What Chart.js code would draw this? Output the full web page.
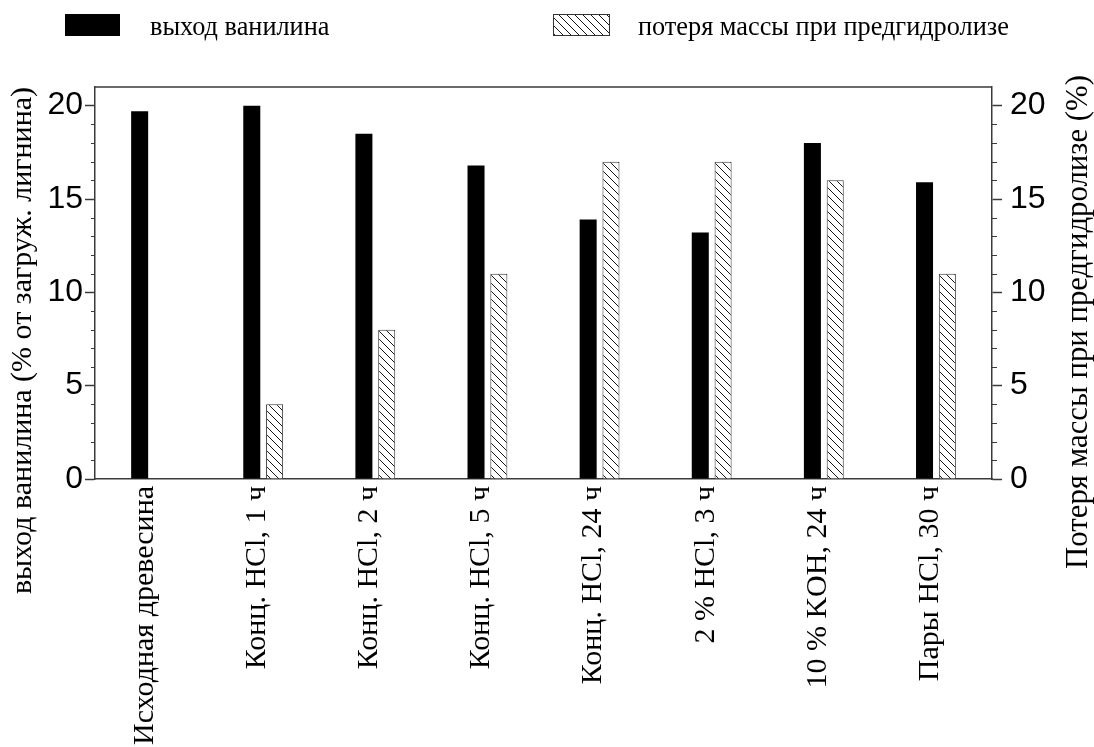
<!DOCTYPE html>
<html lang="ru">
<head>
<meta charset="utf-8">
<title>Выход ванилина и потеря массы при предгидролизе</title>
<script src="https://cdn.jsdelivr.net/npm/chart.js@4.4.1/dist/chart.umd.min.js"></script>
<style>
  html, body { margin: 0; padding: 0; background: #ffffff; }
  #wrap { width: 1094px; height: 747px; position: relative; }
</style>
</head>
<body>
<div id="wrap"><canvas id="chart" width="1094" height="747"></canvas></div>
<script>
// Pretreatment conditions (x categories)
const categories = [
  'Исходная древесина',
  'Конц. HCl, 1 ч',
  'Конц. HCl, 2 ч',
  'Конц. HCl, 5 ч',
  'Конц. HCl, 24 ч',
  '2 % HCl, 3 ч',
  '10 % KOH, 24 ч',
  'Пары HCl, 30 ч'
];
// Vanillin yield, % of loaded lignin (left axis)
const vanillinYield = [19.7, 20.0, 18.5, 16.8, 13.9, 13.2, 18.0, 15.9];
// Mass loss during prehydrolysis, % (right axis); none for untreated wood
const massLoss = [null, 4, 8, 11, 17, 17, 16, 11];
// Labelled ticks on both value axes
const majorTicks = [0, 5, 10, 15, 20];
// Unlabelled minor ticks
const minorTicks = [1, 2, 3, 4, 6, 7, 8, 9, 11, 12, 13, 14, 16, 17, 18, 19];

const seriesNames = ['выход ванилина', 'потеря массы при предгидролизе'];
const leftTitle = 'выход ванилина (% от загруж. лигнина)';
const rightTitle = 'Потеря массы при предгидролизе (%)';

const AXIS_COLOR = '#3a3a3a';
const SERIF = '"Liberation Serif", "Times New Roman", serif';
const SANS = '"Liberation Sans", Arial, sans-serif';

// Diagonal "\" hatch used for the mass-loss bars
function makeHatch() {
  const s = 8;
  const c = document.createElement('canvas');
  c.width = s; c.height = s;
  const g = c.getContext('2d');
  g.fillStyle = '#ffffff';
  g.fillRect(0, 0, s, s);
  g.strokeStyle = '#1a1a1a';
  g.lineWidth = 1;
  g.beginPath();
  g.moveTo(-1, -1); g.lineTo(s + 1, s + 1);
  g.moveTo(-1, s - 1); g.lineTo(1, s + 1);
  g.moveTo(s - 1, -1); g.lineTo(s + 1, 1);
  g.stroke();
  return g.createPattern(c, 'repeat');
}
const hatch = makeHatch();

// Frame top edge, minor ticks, right-hand title and the legend row
const decorations = {
  id: 'decorations',
  afterDraw(chart) {
    const ctx = chart.ctx;
    const area = chart.chartArea;
    const yL = chart.scales.y;
    const yR = chart.scales.y2;
    ctx.save();
    ctx.strokeStyle = AXIS_COLOR;
    ctx.lineWidth = 1.5;
    ctx.beginPath();
    ctx.moveTo(area.left, area.top);
    ctx.lineTo(area.right, area.top);
    ctx.stroke();

    ctx.lineWidth = 1;
    ctx.beginPath();
    minorTicks.forEach(v => {
      const pl = Math.round(yL.getPixelForValue(v)) + 0.5;
      ctx.moveTo(area.left, pl); ctx.lineTo(area.left - 4, pl);
      const pr = Math.round(yR.getPixelForValue(v)) + 0.5;
      ctx.moveTo(area.right, pr); ctx.lineTo(area.right + 5, pr);
    });
    ctx.stroke();

    // right axis title, reading bottom to top
    ctx.fillStyle = '#000';
    ctx.font = '30.8px ' + SERIF;
    ctx.textAlign = 'right';
    ctx.textBaseline = 'alphabetic';
    ctx.translate(1087, 75);
    ctx.rotate(-Math.PI / 2);
    ctx.fillText(rightTitle, 0, 0);
    ctx.restore();

    // legend
    const ds = chart.data.datasets;
    ctx.save();
    ctx.font = '26.3px ' + SERIF;
    ctx.fillStyle = ds[0].backgroundColor;
    ctx.fillRect(65, 14, 55, 22);
    ctx.fillStyle = ds[1].backgroundColor;
    ctx.fillRect(553, 14, 57, 22);
    ctx.strokeStyle = ds[1].borderColor;
    ctx.lineWidth = 1;
    ctx.strokeRect(553.5, 14.5, 56, 21);
    ctx.fillStyle = '#000';
    ctx.textBaseline = 'alphabetic';
    ctx.textAlign = 'left';
    ctx.fillText(ds[0].label, 150, 35);
    ctx.fillText(ds[1].label, 638, 35);
    ctx.restore();
  }
};

const valueAxis = (position) => ({
  type: 'linear',
  position,
  min: 0,
  max: 21,
  afterBuildTicks: (scale) => { scale.ticks = majorTicks.map(v => ({ value: v })); },
  grid: {
    drawOnChartArea: false,
    drawTicks: true,
    tickLength: 10,
    tickColor: AXIS_COLOR,
    tickWidth: 1.5
  },
  border: { display: true, color: AXIS_COLOR, width: 1.5 },
  ticks: {
    color: '#000',
    font: { family: SANS, size: 32 },
    padding: position === 'left' ? 2 : 8
  }
});

const yLeft = valueAxis('left');
yLeft.title = {
  display: true,
  text: leftTitle,
  align: 'end',
  color: '#000',
  font: { family: SERIF, size: 30, lineHeight: 1.2 },
  padding: { top: 5, bottom: 0 }
};
yLeft.afterFit = (scale) => { scale.width = 95; };

const yRight = valueAxis('right');
yRight.afterFit = (scale) => { scale.width = 102; };

new Chart(document.getElementById('chart'), {
  type: 'bar',
  data: {
    labels: categories,
    datasets: [
      {
        label: seriesNames[0],
        data: vanillinYield,
        yAxisID: 'y',
        backgroundColor: '#000000',
        borderWidth: 0,
        categoryPercentage: 0.407,
        barPercentage: 0.746
      },
      {
        label: seriesNames[1],
        data: massLoss,
        yAxisID: 'y2',
        backgroundColor: hatch,
        borderColor: '#333333',
        borderWidth: 1,
        categoryPercentage: 0.407,
        barPercentage: 0.746
      }
    ]
  },
  options: {
    responsive: false,
    animation: false,
    devicePixelRatio: 1,
    layout: { padding: { top: 87, left: 0, right: 0, bottom: 0 } },
    plugins: {
      legend: { display: false },
      tooltip: { enabled: false },
      title: { display: false }
    },
    scales: {
      x: {
        type: 'category',
        offset: true,
        grid: { display: true, drawOnChartArea: false, drawTicks: false },
        border: { display: true, color: AXIS_COLOR, width: 1.5 },
        ticks: {
          autoSkip: false,
          minRotation: 90,
          maxRotation: 90,
          padding: 7,
          labelOffset: -6,
          color: '#000',
          font: { family: SERIF, size: 30 }
        },
        afterFit: (scale) => { scale.height = 268; }
      },
      y: yLeft,
      y2: yRight
    }
  },
  plugins: [decorations]
});
</script>
</body>
</html>
